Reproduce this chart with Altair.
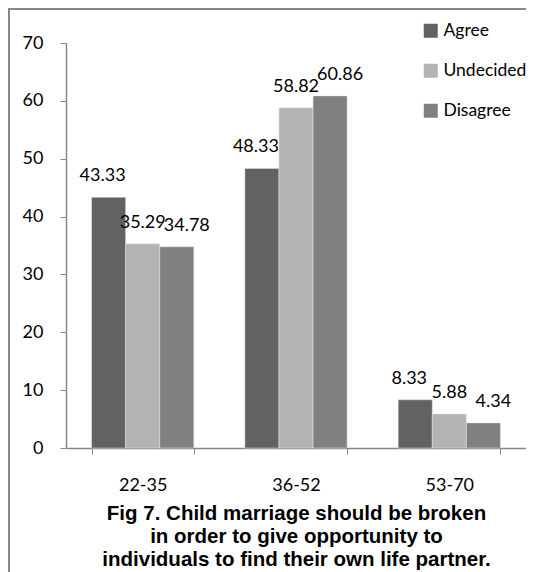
import altair as alt
import pandas as pd

ages = ["22-35", "36-52", "53-70"]
series = ["Agree", "Undecided", "Disagree"]
agree = [43.33, 48.33, 8.33]
undecided = [35.29, 58.82, 5.88]
disagree = [34.78, 60.86, 4.34]
title_lines = [
    "Fig 7. Child marriage should be broken",
    "in order to give opportunity to",
    "individuals to find their own life partner.",
]

rows = []
for s, vals in zip(series, [agree, undecided, disagree]):
    for a, v in zip(ages, vals):
        rows.append({"age": a, "response": s, "value": v})
df = pd.DataFrame(rows)

colors = ["#626262", "#b3b3b3", "#808080"]
label_dx = {"Agree": -6, "Undecided": 0, "Disagree": 10}
FONT = "Lato"

W, H = 460, 405

x_enc = alt.X("age:N", sort=ages, title=title_lines,
              scale=alt.Scale(paddingInner=0.333, paddingOuter=0.1667),
              axis=alt.Axis(labelAngle=0, tickBand="extent", tickSize=6,
                            labelPadding=22, labelFontSize=18, labelFont=FONT,
                            labelColor="black", domainColor="#868686",
                            tickColor="#868686", domainWidth=1.5,
                            titleFont="Liberation Sans", titleFontSize=20.5,
                            titleFontWeight="bold", titleColor="black",
                            titleLineHeight=23, titlePadding=9))
y_enc = alt.Y("value:Q", title=None,
              scale=alt.Scale(domain=[0, 70], nice=False),
              axis=alt.Axis(values=list(range(0, 71, 10)), grid=False, tickSize=6,
                            labelPadding=17, labelFontSize=18, labelFont=FONT,
                            labelColor="black", domainColor="#868686",
                            tickColor="#868686", domainWidth=1.5))

base = alt.Chart(df)

bars = base.mark_bar(stroke="#e8e8e8", strokeWidth=0.5).encode(
    x=x_enc,
    xOffset=alt.XOffset("response:N", sort=series,
                        scale=alt.Scale(paddingInner=0, paddingOuter=0)),
    y=y_enc,
    color=alt.Color("response:N", sort=series,
                    scale=alt.Scale(domain=series, range=colors),
                    legend=alt.Legend(title=None, orient="none", legendX=356, legendY=-21,
                                      symbolType="square", symbolSize=196,
                                      symbolStrokeWidth=0, labelFontSize=17.5,
                                      labelFont=FONT, labelColor="black",
                                      rowPadding=21, padding=0, labelOffset=4)),
)

texts = []
for s in series:
    texts.append(
        base.transform_filter(alt.datum.response == s)
        .mark_text(baseline="bottom", dy=-12, dx=label_dx[s], fontSize=18, font=FONT, color="black")
        .encode(
            x=alt.X("age:N", sort=ages),
            xOffset=alt.XOffset("response:N", sort=series),
            y=alt.Y("value:Q"),
            text=alt.Text("value:Q", format=".2f"),
        )
    )

border_left = alt.Chart(df).mark_rule(color="#888888", strokeWidth=2).encode(
    x=alt.value(-57), y=alt.value(-34), y2=alt.value(H + 130))
border_top = alt.Chart(df).mark_rule(color="#888888", strokeWidth=2).encode(
    x=alt.value(-58), x2=alt.value(W), y=alt.value(-34))

chart = alt.layer(bars, *texts, border_left, border_top).properties(
    width=W, height=H,
    padding={"left": 58, "top": 35, "right": 0, "bottom": 124},
    autosize=alt.AutoSizeParams(type="none"),
).configure_view(stroke=None)

chart.save("out.html", embed_options={"renderer": "svg", "actions": False})
